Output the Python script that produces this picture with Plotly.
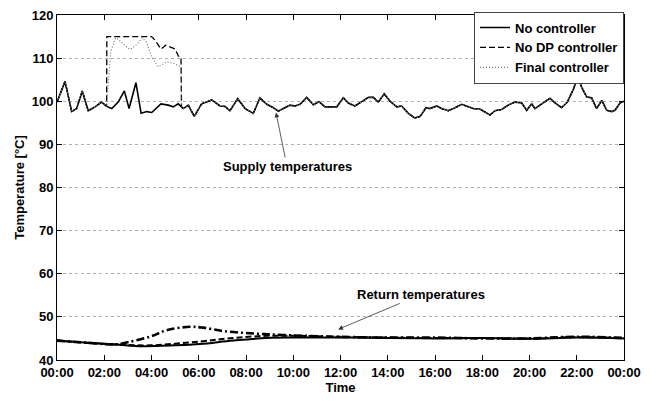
import plotly.graph_objects as go

# ---------------- data (hours, °C) ----------------
supply_t = [0.0, 0.34, 0.62, 0.83, 1.07, 1.32, 1.61, 1.89, 2.10, 2.32, 2.59, 2.85, 3.05, 3.34,
            3.56, 3.80, 4.01, 4.40, 4.71, 4.92, 5.13, 5.35, 5.56, 5.81, 6.12, 6.55, 6.90, 7.11,
            7.32, 7.65, 7.96, 8.31, 8.59, 8.88, 9.16, 9.37, 9.58, 9.86, 10.07, 10.29, 10.57,
            10.85, 11.09, 11.34, 11.84, 12.12, 12.33, 12.61, 12.90, 13.18, 13.39, 13.60, 13.85,
            14.10, 14.38, 14.59, 14.87, 15.15, 15.37, 15.62, 15.79, 16.07, 16.28, 16.56, 16.85,
            17.13, 17.41, 17.62, 17.90, 18.33, 18.54, 18.82, 19.10, 19.39, 19.67, 19.88, 20.09,
            20.23, 20.52, 20.87, 21.08, 21.36, 21.60, 21.86, 22.04, 22.21, 22.42, 22.63, 22.84,
            23.06, 23.27, 23.48, 23.62, 23.83, 24.0]
supply_no_ctrl = [99.8, 104.6, 97.6, 98.3, 102.4, 97.8, 98.7, 99.8, 98.8, 98.3, 99.8, 102.4, 98.3,
                  104.3, 97.2, 97.6, 97.4, 99.4, 99.1, 98.7, 99.4, 98.3, 99.1, 96.5, 99.4, 100.3,
                  98.9, 98.8, 97.8, 100.6, 98.3, 97.2, 100.8, 99.3, 98.5, 97.7, 98.3, 99.1, 98.9,
                  99.3, 100.9, 99.2, 99.9, 98.7, 98.7, 100.8, 99.6, 98.9, 99.9, 100.9, 100.9, 99.8,
                  101.7, 100.0, 98.7, 98.9, 97.2, 96.1, 96.5, 98.5, 98.3, 98.9, 98.3, 97.8, 98.5,
                  99.3, 98.7, 98.3, 98.2, 96.8, 97.8, 98.1, 99.1, 99.8, 99.6, 97.9, 99.4, 98.3,
                  99.4, 100.7, 99.6, 98.5, 99.8, 102.8, 105.8, 103.2, 101.0, 100.8, 98.3, 100.2,
                  97.9, 97.6, 97.9, 99.6, 100.0]

# controller-active window of the supply temperature (others identical to no controller)
window_start, window_end = 2.10, 5.30
dp_window_t = [2.10, 2.11, 4.00, 4.13, 4.40, 4.60, 5.00, 5.13, 5.22, 5.25, 5.27]
dp_window_T = [98.8, 115.0, 115.0, 114.3, 112.1, 113.0, 112.1, 110.6, 110.0, 110.0, 98.6]
fin_window_t = [2.10, 2.27, 2.48, 2.67, 2.96, 3.10, 3.38, 3.61, 3.80, 4.01, 4.29, 4.43, 4.64,
                4.92, 5.20, 5.25, 5.27]
fin_window_T = [98.8, 111.4, 114.7, 114.0, 112.5, 112.0, 113.2, 114.7, 113.6, 110.2, 108.0,
                108.4, 109.1, 108.8, 108.0, 108.0, 98.6]

return_t_nc = [0.0, 1.25, 2.5, 3.6, 5.0, 6.05, 7.45, 8.87, 10.3, 12.4, 14, 16, 18, 20, 22, 24]
return_no_ctrl = [44.5, 44.0, 43.6, 43.2, 43.4, 43.7, 44.5, 45.1, 45.2, 45.2, 45.1, 45.0, 45.1,
                  44.9, 45.2, 45.0]
return_t_dp = [0.0, 1.25, 2.5, 3.94, 6.05, 7.45, 8.87, 10.3, 11.8, 14, 16, 18, 20, 22, 24]
return_no_dp = [44.5, 44.0, 43.6, 43.4, 44.3, 45.1, 45.6, 45.6, 45.4, 45.2, 45.1, 45.1, 45.0,
                45.3, 45.1]
return_t_fin = [0.0, 1.25, 2.5, 2.8, 3.94, 4.64, 5.63, 6.19, 7.04, 8.17, 9.58, 11.7, 14, 16, 18,
                20, 22, 24]
return_final = [44.5, 44.0, 43.6, 43.9, 45.4, 46.9, 47.7, 47.5, 46.7, 46.2, 45.8, 45.4, 45.2,
                45.2, 45.0, 45.0, 45.4, 45.1]

tick_hours = list(range(0, 25, 2))
tick_text = ["00:00", "02:00", "04:00", "06:00", "08:00", "10:00", "12:00", "14:00", "16:00",
             "18:00", "20:00", "22:00", "00:00"]
y_ticks = [40, 50, 60, 70, 80, 90, 100, 110, 120]


def with_window(wt, wT):
    before = [(t, v) for t, v in zip(supply_t, supply_no_ctrl) if t < window_start]
    after = [(t, v) for t, v in zip(supply_t, supply_no_ctrl) if t > window_end]
    pts = before + list(zip(wt, wT)) + after
    return [p[0] for p in pts], [p[1] for p in pts]


dp_t, dp_T = with_window(dp_window_t, dp_window_T)
fin_t, fin_T = with_window(fin_window_t, fin_window_T)

fig = go.Figure()
# supply
fig.add_trace(go.Scatter(x=supply_t, y=supply_no_ctrl, mode="lines", name="No controller",
                         line=dict(color="black", width=1.6), legendgroup="a"))
fig.add_trace(go.Scatter(x=dp_t, y=dp_T, mode="lines", name="No DP controller",
                         line=dict(color="black", width=1.3, dash="6px,3px"), legendgroup="b"))
fig.add_trace(go.Scatter(x=fin_t, y=fin_T, mode="lines", name="Final controller",
                         line=dict(color="#777777", width=1.2, dash="1px,2px"), legendgroup="c"))
# return
fig.add_trace(go.Scatter(x=return_t_nc, y=return_no_ctrl, mode="lines", showlegend=False,
                         line=dict(color="black", width=2, shape="spline"), legendgroup="a"))
fig.add_trace(go.Scatter(x=return_t_dp, y=return_no_dp, mode="lines", showlegend=False,
                         line=dict(color="black", width=2, dash="6px,3px", shape="spline"),
                         legendgroup="b"))
fig.add_trace(go.Scatter(x=return_t_fin, y=return_final, mode="lines", showlegend=False,
                         line=dict(color="black", width=2.6, dash="8px,3px,2px,3px",
                                   shape="spline"), legendgroup="c"))

fig.add_annotation(x=9.27, y=97.4, xref="x", yref="y", text="Supply temperatures",
                   showarrow=True, ax=11, ay=54, arrowhead=2, arrowsize=1.2, arrowwidth=0.8,
                   arrowcolor="#333333", font=dict(size=13, color="black"))
fig.add_annotation(x=11.9, y=47.1, xref="x", yref="y", text="Return temperatures",
                   showarrow=True, ax=83, ay=-35, arrowhead=2, arrowsize=1.2, arrowwidth=0.8,
                   arrowcolor="#333333", font=dict(size=13, color="black"))

fig.update_layout(
    width=659, height=401,
    margin=dict(l=57, r=35, t=8, b=35),
    paper_bgcolor="white", plot_bgcolor="white",
    font=dict(family="Liberation Sans, Arial, sans-serif", size=13, color="black", weight="bold"),
    showlegend=True,
    legend=dict(x=1, y=1.01, xanchor="right", yanchor="top", bgcolor="white",
                bordercolor="#444444", borderwidth=1, font=dict(size=13),
                tracegroupgap=0),
)
fig.update_xaxes(range=[0, 24], tickvals=tick_hours, ticktext=tick_text,
                 showline=True, linecolor="black", linewidth=1, mirror="ticks",
                 ticks="inside", ticklen=5, tickcolor="black", showgrid=False, zeroline=False,
                 title=dict(text="Time", standoff=4, font=dict(size=13)))
fig.update_yaxes(range=[40, 120], tickvals=y_ticks,
                 showline=True, linecolor="black", linewidth=1, mirror="ticks",
                 ticks="inside", ticklen=5, tickcolor="black", zeroline=False,
                 showgrid=True, gridcolor="#b0b0b0", gridwidth=1, griddash="dot",
                 title=dict(text="Temperature [°C]", standoff=4, font=dict(size=13)))

fig.write_html("out.html")
